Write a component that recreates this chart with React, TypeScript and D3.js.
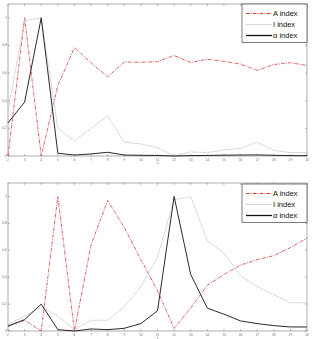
import React from "react";
import * as d3 from "d3";

const xs = [2, 3, 4, 5, 6, 7, 8, 9, 10, 11, 12, 13, 14, 15, 16, 17, 18, 19, 20];
const yTicks = [0, 0.2, 0.4, 0.6, 0.8, 1];
const seriesNames = ["A index", "I index", "\u03b1 index"];

const topA = [0, 1.0, 0, 0.51, 0.785, 0.675, 0.573, 0.68, 0.678, 0.683, 0.727, 0.677, 0.7, 0.685, 0.665, 0.62, 0.662, 0.675, 0.655];
const topI = [0.33, 0.98, 1.0, 0.2, 0.11, 0.2, 0.29, 0.1, 0.087, 0.06, 0.0, 0.03, 0.025, 0.045, 0.055, 0.1, 0.04, 0.025, 0.025];
const topAlpha = [0.24, 0.39, 1.0, 0.02, 0.007, 0.015, 0.027, 0.007, 0.005, 0.004, 0.0, 0.003, 0.004, 0.006, 0.007, 0.008, 0.005, 0.003, 0.002];

const botA = [0.04, 0.08, 0, 1.0, 0, 0.64, 0.97, 0.77, 0.53, 0.3, 0.02, 0.17, 0.34, 0.42, 0.49, 0.53, 0.56, 0.62, 0.69];
const botI = [0.05, 0.11, 0.18, 0.11, 0.01, 0.08, 0.08, 0.18, 0.33, 0.55, 0.975, 1.0, 0.67, 0.58, 0.41, 0.33, 0.27, 0.21, 0.21];
const botAlpha = [0.035, 0.085, 0.2, 0.01, 0, 0.015, 0.01, 0.02, 0.055, 0.15, 1.0, 0.42, 0.17, 0.125, 0.075, 0.055, 0.04, 0.03, 0.03];

const styles = [
  { stroke: "#d23a3a", dash: "3.5,1.2,1,1.2", width: 0.8 },
  { stroke: "#bdbdbd", dash: "1,0.6", width: 0.9 },
  { stroke: "#111", dash: "", width: 0.9 },
];

type PanelProps = { top: number; bottom: number; data: number[][]; legendTop: number };

function Panel({ top, bottom, data, legendTop }: PanelProps) {
  const left = 8, right = 307;
  const x = d3.scaleLinear().domain([2, 20]).range([left, right]);
  const y = d3.scaleLinear().domain([0, 1.1]).range([bottom, top]);
  const line = d3.line<number>().x((_, i) => x(xs[i])).y((d) => y(d));
  const lx = 242, lw = 65;
  const axisCol = "#777";
  return (
    <g>
      <rect x={left} y={top} width={right - left} height={bottom - top} fill="#fff" stroke={axisCol} strokeWidth={0.6} />
      {xs.map((v) => (
        <g key={"xt" + v}>
          <line x1={x(v)} x2={x(v)} y1={bottom} y2={bottom - 2} stroke={axisCol} strokeWidth={0.5} />
          <line x1={x(v)} x2={x(v)} y1={top} y2={top + 2} stroke={axisCol} strokeWidth={0.5} />
          <text x={x(v)} y={bottom + 4.5} fontSize={3.2} textAnchor="middle" fill="#666" fontFamily="Liberation Sans, Arial, sans-serif">{v}</text>
        </g>
      ))}
      {yTicks.map((v) => (
        <g key={"yt" + v}>
          <line x1={left} x2={left + 2} y1={y(v)} y2={y(v)} stroke={axisCol} strokeWidth={0.5} />
          <line x1={right} x2={right - 2} y1={y(v)} y2={y(v)} stroke={axisCol} strokeWidth={0.5} />
          <text x={left - 1.2} y={y(v) + 1} fontSize={3.2} textAnchor="end" fill="#666" fontFamily="Liberation Sans, Arial, sans-serif">{v}</text>
        </g>
      ))}
      <text x={(left + right) / 2} y={bottom + 8} fontSize={3.2} textAnchor="middle" fill="#666" fontFamily="Liberation Sans, Arial, sans-serif">x</text>
      {data.map((d, i) => (
        <path key={"s" + i} d={line(d) || ""} fill="none" stroke={styles[i].stroke} strokeWidth={styles[i].width} strokeDasharray={styles[i].dash} />
      ))}
      <rect x={lx} y={legendTop} width={lw} height={38.5} fill="#fff" stroke="#222" strokeWidth={0.6} />
      {seriesNames.map((n, i) => {
        const yy = legendTop + 9.5 + i * 11;
        return (
          <g key={"lg" + i}>
            <line x1={lx + 4} x2={lx + 30} y1={yy} y2={yy} stroke={styles[i].stroke} strokeWidth={i === 2 ? 1.3 : 1} strokeDasharray={styles[i].dash} />
            <text x={lx + 31} y={yy + 2.6} fontSize={7.5} fill="#111" fontFamily="Liberation Sans, Arial, sans-serif">{n}</text>
          </g>
        );
      })}
    </g>
  );
}

export default function App() {
  return (
    <svg width={312} height={339} style={{ position: "absolute", left: 0, top: 0, background: "#fff" }}>
      <rect width={312} height={339} fill="#fff" />
      <Panel top={4} bottom={156} data={[topA, topI, topAlpha]} legendTop={4} />
      <Panel top={183} bottom={331} data={[botA, botI, botAlpha]} legendTop={184} />
    </svg>
  );
}
